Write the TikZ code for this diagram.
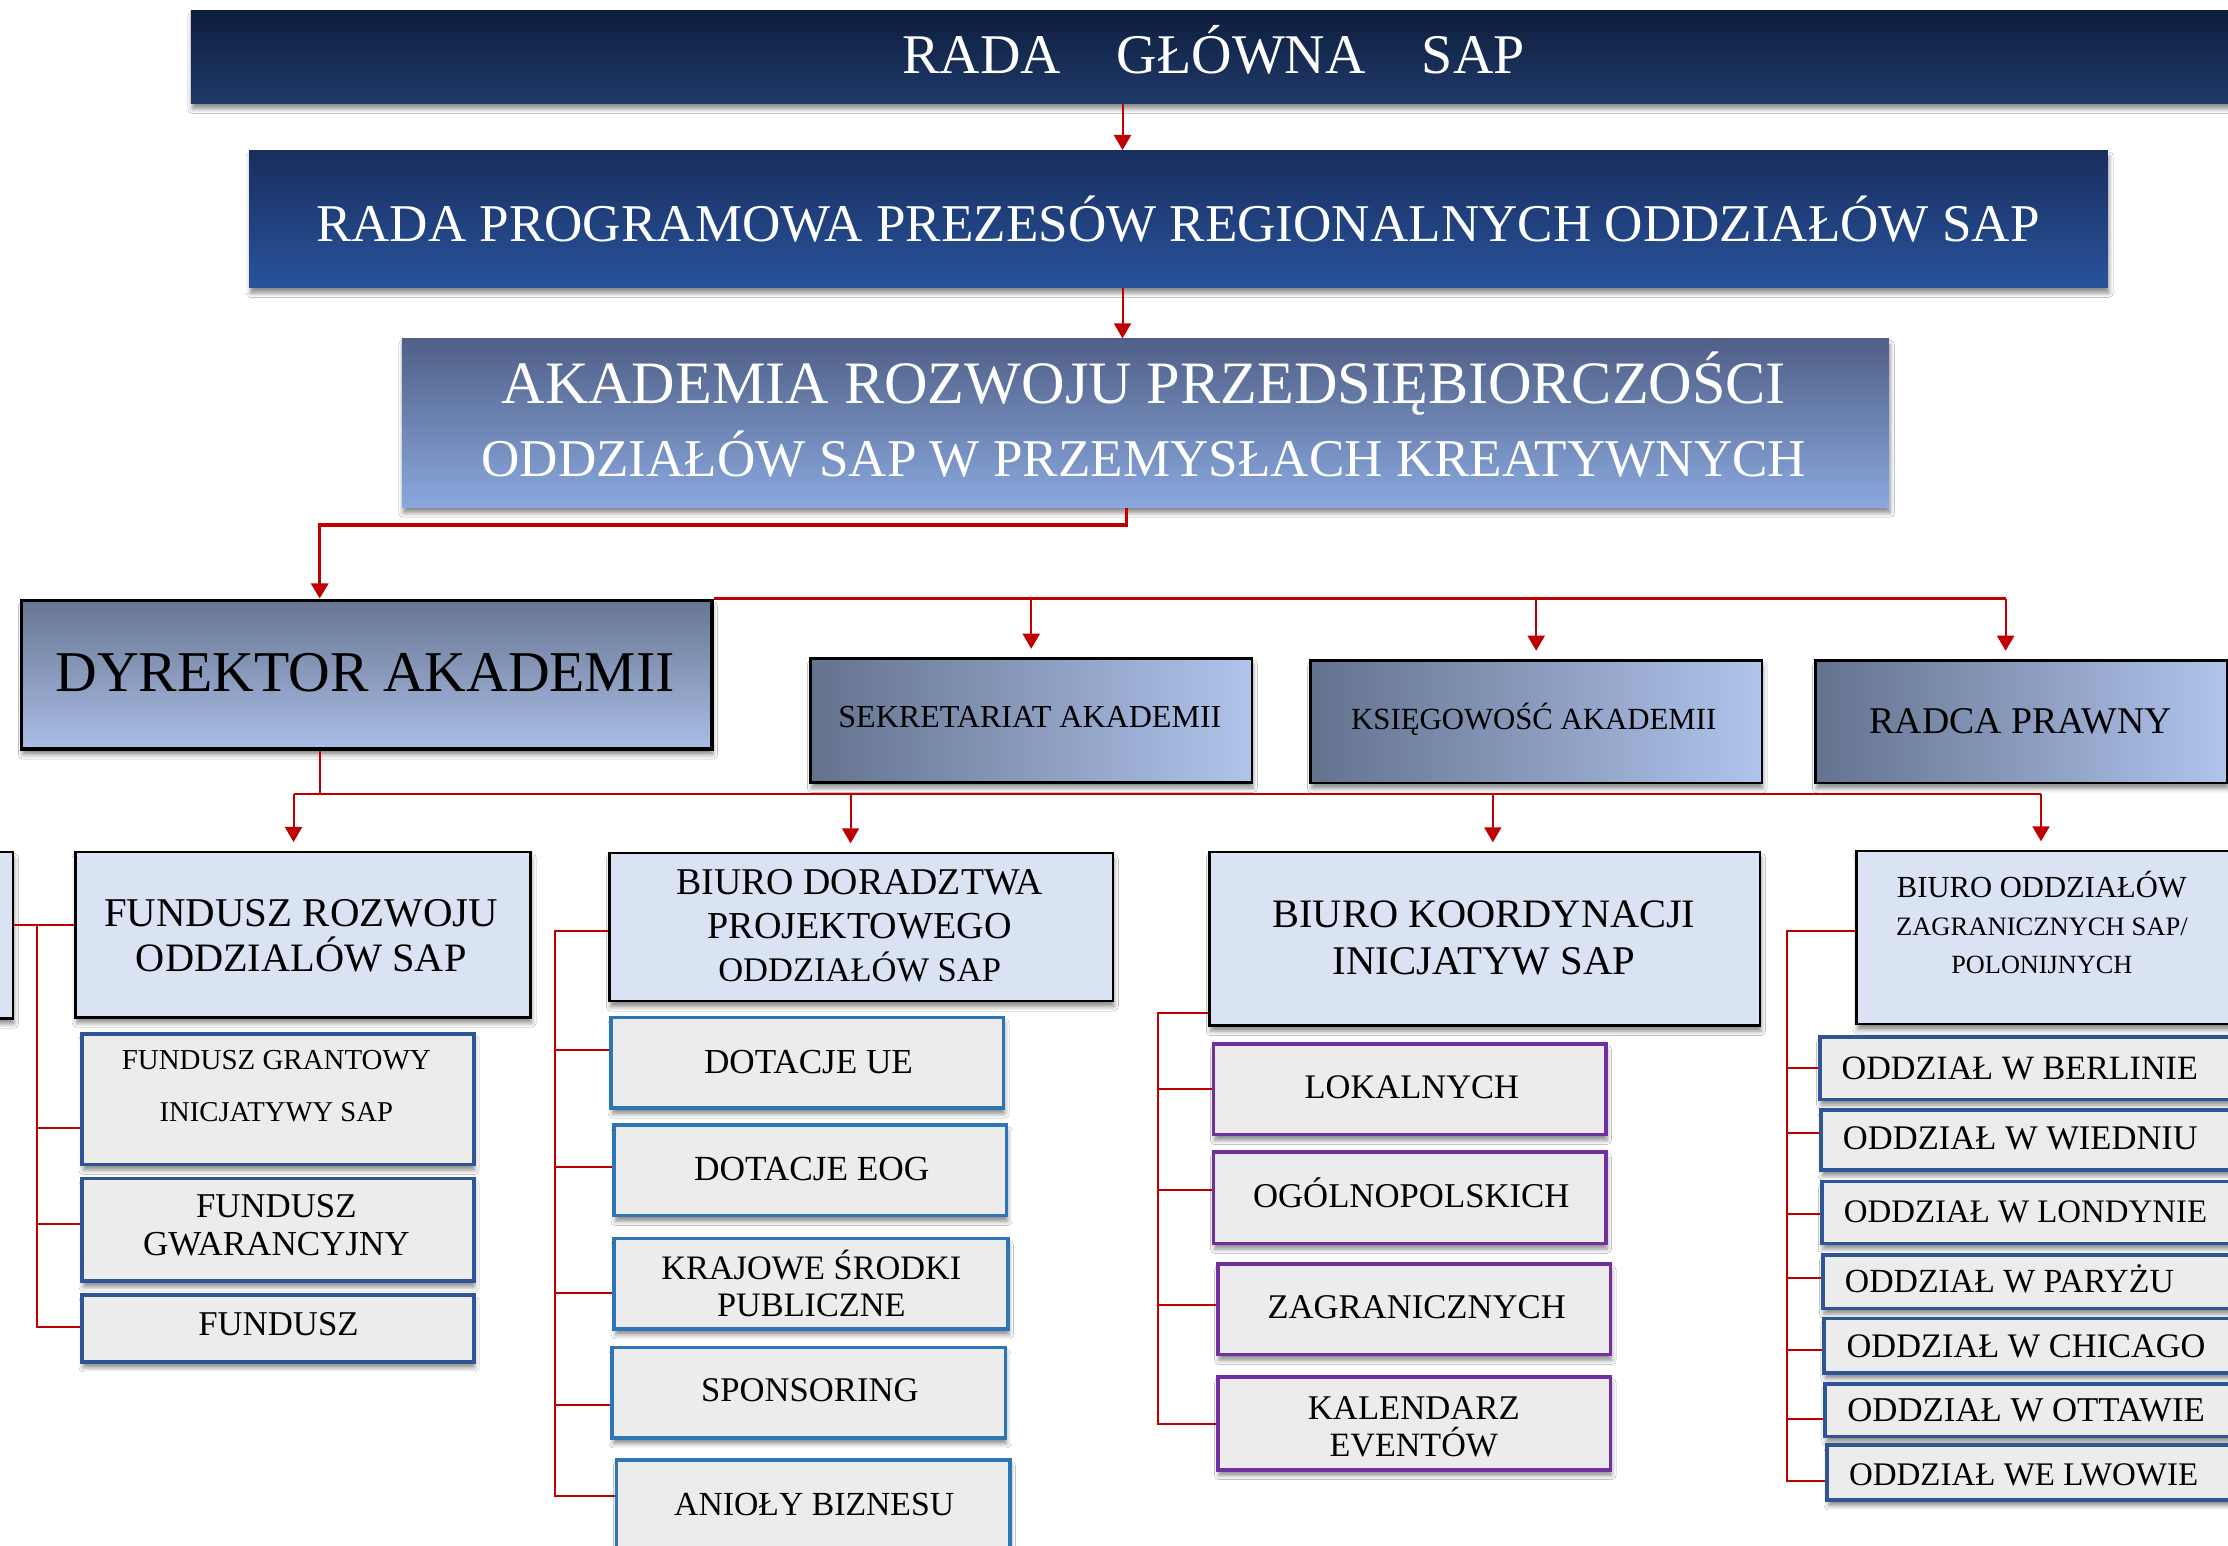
\documentclass[tikz,border=0pt]{standalone}
\usepackage{fontspec}
\setmainfont{Liberation Serif}
\usepackage{graphicx}
\usetikzlibrary{arrows.meta,shadows.blur}
\newlength\uu \setlength\uu{0.5pt}
\newcommand\fitline[2]{\smash{\resizebox{#1\uu}{!}{#2}}}
\newcommand\bsk[1]{\fontsize{10pt}{#1\uu}\selectfont}
\newcommand\boxat[6]{\node[#1, anchor=north west, inner sep=0pt, minimum width={((#5)-(#3))*0.5pt}, minimum height={((#6)-(#4))*0.5pt}] (#2) at (#3,#4) {};}
\definecolor{redline}{RGB}{192,0,0}
\definecolor{navyA}{RGB}{14,29,61}
\definecolor{navyB}{RGB}{31,58,106}
\definecolor{progA}{RGB}{25,46,94}
\definecolor{progB}{RGB}{40,83,156}
\definecolor{akA}{RGB}{80,96,135}
\definecolor{akB}{RGB}{138,168,222}
\definecolor{dyA}{RGB}{104,118,146}
\definecolor{dyB}{RGB}{170,190,230}
\definecolor{stA}{RGB}{100,114,142}
\definecolor{stB}{RGB}{176,196,236}
\definecolor{lblue}{RGB}{218,227,243}
\definecolor{lgrey}{RGB}{236,236,236}
\definecolor{bdark}{RGB}{47,85,151}
\definecolor{bmid}{RGB}{46,117,182}
\definecolor{purp}{RGB}{112,48,160}
\tikzset{
  shad/.style={blur shadow={shadow xshift=0.4pt, shadow yshift=-2pt, shadow blur radius=1.5pt, shadow opacity=45}},
  hdr/.style={shad},
  lbx/.style={shad, draw=black, line width=0.9pt, fill=lblue},
  subA/.style={shad, draw=bdark, line width=1.3pt, fill=lgrey},
  subB/.style={shad, draw=bmid, line width=1.3pt, fill=lgrey},
  subP/.style={shad, draw=purp, line width=1.3pt, fill=lgrey},
  stf/.style={shad, draw=black, line width=0.9pt, left color=stA, right color=stB},
  tx/.style={inner sep=0pt, align=center, font=\bsk{20}},
  wt/.style={tx, text=white},
  rl/.style={draw=redline, line width=0.7pt},
  rth/.style={draw=redline, line width=1.1pt},
  arr/.style={-{Triangle[length=5.3pt,width=6pt]}},
}
\begin{document}
\begin{tikzpicture}[x=0.5pt,y=-0.5pt]
\useasboundingbox (0,0) rectangle (1568,1088);
\fill[white] (0,0) rectangle (1568,1088);
% ---------- boxes ----------
\boxat{hdr, top color=navyA, bottom color=navyB}{top}{134}{7}{1574}{72.3}
\boxat{hdr, top color=progA, bottom color=progB}{rp}{175}{105.6}{1483}{201.8}
\boxat{hdr, top color=akA, bottom color=akB}{ak}{282.5}{238.1}{1329}{356.6}
\boxat{hdr, draw=black, line width=1.3pt, top color=dyA, bottom color=dyB}{dyr}{13.9}{421.2}{499.8}{525.9}
\boxat{stf}{sek}{569.5}{462.6}{880.2}{549.7}
\boxat{stf}{ksi}{921.4}{464}{1239}{550}
\boxat{stf}{rad}{1276.7}{464}{1566.5}{550}
\boxat{lbx}{lb}{-20}{598.6}{8.3}{715.7}
\boxat{lbx}{fro}{52.1}{598.6}{372.6}{715}
\boxat{subA}{fg}{56.5}{726.3}{332.1}{818.3}
\boxat{subA}{fgw}{56.5}{828.1}{332.1}{900.4}
\boxat{subA}{ff}{56.5}{910.2}{332.1}{957.2}
\boxat{lbx}{bdp}{428}{599.5}{782.3}{703.6}
\boxat{subB}{due}{428.9}{714.7}{705}{778.6}
\boxat{subB}{deo}{431}{790.6}{707.1}{854.2}
\boxat{subB}{kra}{431}{870.4}{708}{934}
\boxat{subB}{spo}{429.6}{947.1}{706.3}{1010.7}
\boxat{subB}{ani}{432.6}{1026}{709.4}{1095}
\boxat{lbx}{bki}{850.2}{598.8}{1237.8}{720.9}
\boxat{subP}{lok}{852.7}{733.5}{1129}{797.2}
\boxat{subP}{ogo}{852.7}{809.2}{1129}{873.8}
\boxat{subP}{zag}{855.7}{888.3}{1132.2}{951.9}
\boxat{subP}{kal}{855.7}{967.7}{1132.2}{1033}
\boxat{lbx}{boz}{1305.5}{598.1}{1574}{719.8}
\boxat{subA}{ob1}{1279.3}{728.4}{1580}{772.4}
\boxat{subA}{ob2}{1280.4}{780}{1580}{822.3}
\boxat{subA}{ob3}{1280.8}{830.2}{1580}{873.8}
\boxat{subA}{ob4}{1281.5}{881.8}{1580}{919.6}
\boxat{subA}{ob5}{1282.4}{926.5}{1580}{965}
\boxat{subA}{ob6}{1283.1}{972.8}{1580}{1009.6}
\boxat{subA}{ob7}{1284.7}{1015.8}{1580}{1054.3}
% ---------- connectors ----------
\draw[rl,arr] (790,0 |- top.south) -- (790,0 |- rp.north);
\draw[rl,arr] (790,0 |- rp.south) -- (790,0 |- ak.north);
\draw[rth,arr] (793,0 |- ak.south) |- (225,369.5) -- (225,0 |- dyr.north);
\draw[rth] (dyr.north east) -- (1411.5,0 |- dyr.north east);
\draw[rl,arr,shorten >=3pt] (sek.north |- dyr.north) -- (sek.north);
\draw[rl,arr,shorten >=3pt] (ksi.north |- dyr.north) -- (ksi.north);
\draw[rl,arr,shorten >=3pt] (1411.5,0 |- dyr.north) -- (1411.5,0 |- rad.north);
\coordinate (busL) at (206.6,559);
\coordinate (busR) at (1436.4,559);
\draw[rl] (225,0 |- dyr.south) -- (225,559);
\draw[rl] (busL) -- (busR);
\draw[rl,arr,shorten >=3pt] (busL) -- (busL |- fro.north);
\draw[rl,arr,shorten >=3pt] (598.6,559) -- (598.6,0 |- bdp.north);
\draw[rl,arr,shorten >=3pt] (1050.6,559) -- (1050.6,0 |- bki.north);
\draw[rl,arr,shorten >=3pt] (busR) -- (busR |- boz.north);
% fundusz cluster
\draw[rl] (lb.east |- 0,650.7) -- (fro.west |- 0,650.7);
\draw[rl] (25.9,650.7) -- (25.9,933.7) -- (ff.west |- 0,933.7);
\draw[rl] (25.9,794) -- (fg.west |- 0,794);
\draw[rl] (25.9,861.6) -- (fgw.west |- 0,861.6);
% doradztwo cluster
\draw[rl] (bdp.west |- 0,655.5) -| (390.7,1052.6) -- (ani.west |- 0,1052.6);
\draw[rl] (390.7,739.1) -- (due.west |- 0,739.1);
\draw[rl] (390.7,821.6) -- (deo.west |- 0,821.6);
\draw[rl] (390.7,910) -- (kra.west |- 0,910);
\draw[rl] (390.7,989) -- (spo.west |- 0,989);
% koordynacja cluster
\draw[rl] (bki.west |- 0,712.6) -| (815.2,1002.1) -- (kal.west |- 0,1002.1);
\draw[rl] (815.2,766.6) -- (lok.west |- 0,766.6);
\draw[rl] (815.2,837.8) -- (ogo.west |- 0,837.8);
\draw[rl] (815.2,918.6) -- (zag.west |- 0,918.6);
% zagraniczne cluster
\draw[rl] (boz.west |- 0,655.5) -| (1257.4,1042.3) -- (ob7.west |- 0,1042.3);
\draw[rl] (1257.4,751.8) -- (ob1.west |- 0,751.8);
\draw[rl] (1257.4,797.5) -- (ob2.west |- 0,797.5);
\draw[rl] (1257.4,854.2) -- (ob3.west |- 0,854.2);
\draw[rl] (1257.4,899.6) -- (ob4.west |- 0,899.6);
\draw[rl] (1257.4,949.8) -- (ob5.west |- 0,949.8);
\draw[rl] (1257.4,998.6) -- (ob6.west |- 0,998.6);
% ---------- texts ----------
\node[wt] (t_top) at (854,51.6) {\fitline{438}{RADA\quad GŁÓWNA\quad SAP}};
\node[wt] (t_rp) at (829,170.1) {\fitline{1213}{RADA PROGRAMOWA PREZESÓW REGIONALNYCH ODDZIAŁÓW SAP}};
\node[wt, font=\bsk{51.6}] (t_ak) at (805,309.7) {\fitline{904}{AKADEMIA ROZWOJU PRZEDSIĘBIORCZOŚCI}\\\fitline{932.5}{ODDZIAŁÓW SAP W PRZEMYSŁACH KREATYWNYCH}};
\node[tx] (t_dyr) at (257,486.4) {\fitline{435.7}{DYREKTOR AKADEMII}};
\node[tx] (t_sek) at (724.8,511.9) {\fitline{269.6}{SEKRETARIAT AKADEMII}};
\node[tx] (t_ksi) at (1079.4,513.5) {\fitline{257}{KSIĘGOWOŚĆ AKADEMII}};
\node[tx] (t_rad) at (1422.1,516) {\fitline{212.6}{RADCA PRAWNY}};
\node[tx, font=\bsk{32}] (t_fro) at (212,667.9) {\fitline{277.4}{FUNDUSZ ROZWOJU}\\\fitline{232.7}{ODDZIALÓW SAP}};
\node[tx, font=\bsk{36.8}] (t_fg) at (194.5,771) {\fitline{217.5}{FUNDUSZ GRANTOWY}\\\fitline{164.3}{INICJATYWY SAP}};
\node[tx, font=\bsk{26.5}] (t_fgw) at (194.5,870) {\fitline{112.9}{FUNDUSZ}\\\fitline{187.7}{GWARANCYJNY}};
\node[tx] (t_ff) at (196,939.8) {\fitline{112.9}{FUNDUSZ}};
\node[tx, font=\bsk{30.5}] (t_bdp) at (605,660.2) {\fitline{258}{BIURO DORADZTWA}\\\fitline{214}{PROJEKTOWEGO}\\\fitline{199}{ODDZIAŁÓW SAP}};
\node[tx] (t_due) at (569,755.2) {\fitline{147}{DOTACJE UE}};
\node[tx] (t_deo) at (571.3,830.9) {\fitline{165.7}{DOTACJE EOG}};
\node[tx, font=\bsk{26.2}] (t_kra) at (571,913.4) {\fitline{211.2}{KRAJOWE ŚRODKI}\\\fitline{132.7}{PUBLICZNE}};
\node[tx] (t_spo) at (570,986.3) {\fitline{153}{SPONSORING}};
\node[tx] (t_ani) at (573,1066.4) {\fitline{197}{ANIOŁY BIZNESU}};
\node[tx, font=\bsk{33}] (t_bki) at (1044.4,669.3) {\fitline{297.6}{BIURO KOORDYNACJI}\\\fitline{212.7}{INICJATYW SAP}};
\node[tx] (t_lok) at (993.6,773.1) {\fitline{150.8}{LOKALNYCH}};
\node[tx] (t_ogo) at (993.2,849.7) {\fitline{222.7}{OGÓLNOPOLSKICH}};
\node[tx] (t_zag) at (997,927.9) {\fitline{209.9}{ZAGRANICZNYCH}};
\node[tx, font=\bsk{26.5}] (t_kal) at (995,1011.9) {\fitline{149}{KALENDARZ}\\\fitline{118.5}{EVENTÓW}};
\node[tx, font=\bsk{26.7}] (t_boz) at (1437,658.1) {\fitline{204}{BIURO ODDZIAŁÓW}\\\fitline{205.3}{ZAGRANICZNYCH SAP/}\\\fitline{127.4}{POLONIJNYCH}};
\node[tx, anchor=west] (t_o1) at (1295.7,759.4) {\fitline{250.7}{ODDZIAŁ W BERLINIE}};
\node[tx, anchor=west] (t_o2) at (1296.6,809.2) {\fitline{249.8}{ODDZIAŁ W WIEDNIU}};
\node[tx, anchor=west] (t_o3) at (1297.3,860.1) {\fitline{255.6}{ODDZIAŁ W LONDYNIE}};
\node[tx, anchor=west] (t_o4) at (1298,909.9) {\fitline{231.5}{ODDZIAŁ W PARYŻU}};
\node[tx, anchor=west] (t_o5) at (1299.2,955.7) {\fitline{252.6}{ODDZIAŁ W CHICAGO}};
\node[tx, anchor=west] (t_o6) at (1299.7,1000.3) {\fitline{251.6}{ODDZIAŁ W OTTAWIE}};
\node[tx, anchor=west] (t_o7) at (1300.9,1045.1) {\fitline{245.7}{ODDZIAŁ WE LWOWIE}};
\end{tikzpicture}
\end{document}
